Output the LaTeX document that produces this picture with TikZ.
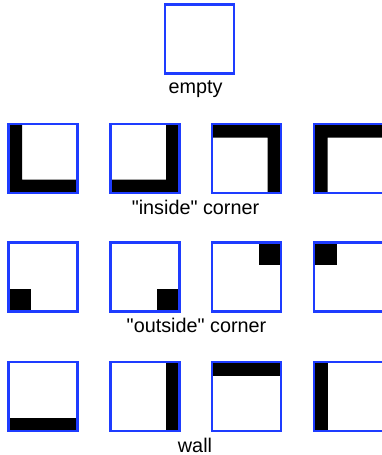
\documentclass[tikz,border=0pt]{standalone}
\usepackage{fontspec}
\setmainfont{Liberation Sans}
\definecolor{cellblue}{RGB}{30,60,255}
\begin{document}
\begin{tikzpicture}[x=1pt,y=1pt,
  cell/.style={minimum size=69pt, inner sep=0pt, outer sep=0pt},
  cellborder/.style={draw=cellblue, line width=2.2pt},
  solidpart/.style={fill=black},
  caption/.style={font=\fontsize{19.8}{24}\selectfont, anchor=base, inner sep=0pt}]
\useasboundingbox (0,0) rectangle (381,-455);

% cells
\node[cell] (e)  at (199.5,-39) {};
\node[cell] (i1) at (43,-158.5) {};
\node[cell] (i2) at (145,-158.5) {};
\node[cell] (i3) at (246.5,-158.5) {};
\node[cell] (i4) at (348.5,-158.5) {};
\node[cell] (o1) at (43,-277) {};
\node[cell] (o2) at (145,-277) {};
\node[cell] (o3) at (246.5,-277) {};
\node[cell] (o4) at (348.5,-277) {};
\node[cell] (w1) at (43,-396.5) {};
\node[cell] (w2) at (145,-396.5) {};
\node[cell] (w3) at (246.5,-396.5) {};
\node[cell] (w4) at (348.5,-396.5) {};

% inside corners
\fill[solidpart,shift={(i1.south west)}] (0,0) rectangle (13.5,69) (0,0) rectangle (69,13.5);
\fill[solidpart,shift={(i2.south west)}] (55.5,0) rectangle (69,69) (0,0) rectangle (69,13.5);
\fill[solidpart,shift={(i3.south west)}] (55.5,0) rectangle (69,69) (0,55.5) rectangle (69,69);
\fill[solidpart,shift={(i4.south west)}] (0,0) rectangle (13.5,69) (0,55.5) rectangle (69,69);

% outside corners
\fill[solidpart,shift={(o1.south west)}] (0,0) rectangle (22.5,22.5);
\fill[solidpart,shift={(o2.south west)}] (46.5,0) rectangle (69,22.5);
\fill[solidpart,shift={(o3.south west)}] (46.5,46.5) rectangle (69,69);
\fill[solidpart,shift={(o4.south west)}] (0,46.5) rectangle (22.5,69);

% walls
\fill[solidpart,shift={(w1.south west)}] (0,0) rectangle (69,13.5);
\fill[solidpart,shift={(w2.south west)}] (55.5,0) rectangle (69,69);
\fill[solidpart,shift={(w3.south west)}] (0,55.5) rectangle (69,69);
\fill[solidpart,shift={(w4.south west)}] (0,0) rectangle (13.5,69);

% cell borders on top
\foreach \n in {e,i1,i2,i3,i4,o1,o2,o3,o4,w1,w2,w3,w4}
  \draw[cellborder] (\n.south west) rectangle (\n.north east);

% captions
\node[caption] (tempty)   at (195.5,-93)  {empty};
\node[caption] (tinside)  at (195.5,-214) {\textquotedbl inside\textquotedbl{} corner};
\node[caption] (toutside) at (196.5,-332) {\textquotedbl outside\textquotedbl{} corner};
\node[caption] (twall)    at (195,-452)   {wall};
\end{tikzpicture}
\end{document}
